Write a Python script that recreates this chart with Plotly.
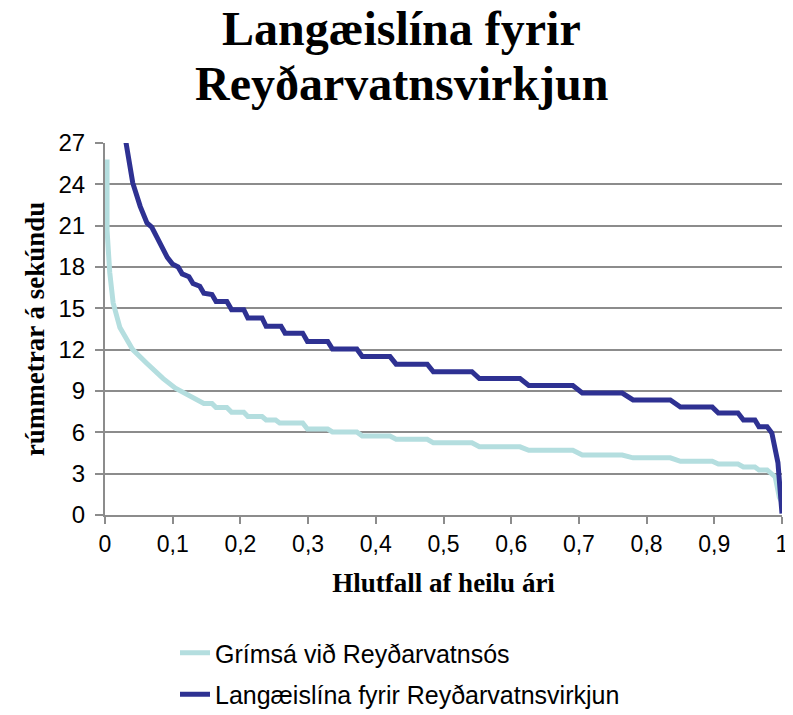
import plotly.graph_objects as go

# Dark series: Langæislína fyrir Reyðarvatnsvirkjun
dark_x = [0.026, 0.031, 0.041, 0.052, 0.062, 0.069, 0.081, 0.092, 0.100, 0.108, 0.114, 0.124,
          0.130, 0.140, 0.146, 0.158, 0.164, 0.180, 0.187, 0.205, 0.211, 0.232, 0.238, 0.260,
          0.266, 0.292, 0.299, 0.329, 0.336, 0.372, 0.380, 0.421, 0.430, 0.476, 0.485, 0.542,
          0.553, 0.613, 0.626, 0.691, 0.705, 0.764, 0.780, 0.835, 0.850, 0.897, 0.906, 0.935,
          0.943, 0.960, 0.966, 0.978, 0.985, 0.990, 0.994, 1.000]
dark_y = [28.5, 27.0, 24.1, 22.4, 21.2, 20.9, 19.7, 18.7, 18.2, 18.0, 17.5, 17.3,
          16.8, 16.6, 16.1, 16.0, 15.5, 15.5, 14.9, 14.9, 14.3, 14.3, 13.7, 13.7,
          13.2, 13.2, 12.6, 12.6, 12.05, 12.05, 11.5, 11.5, 10.95, 10.95, 10.4, 10.4,
          9.9, 9.9, 9.4, 9.4, 8.85, 8.85, 8.35, 8.35, 7.83, 7.83, 7.4, 7.4,
          6.9, 6.9, 6.4, 6.4, 5.95, 4.9, 3.8, 0.1]

# Light series: Grímsá við Reyðarvatnsós
light_x = [0.003, 0.003, 0.007, 0.012, 0.022, 0.041, 0.062, 0.086, 0.104, 0.126, 0.146, 0.158,
           0.164, 0.180, 0.187, 0.205, 0.211, 0.232, 0.238, 0.252, 0.258, 0.292, 0.299, 0.329,
           0.336, 0.372, 0.380, 0.421, 0.430, 0.476, 0.485, 0.542, 0.553, 0.613, 0.626, 0.691,
           0.705, 0.764, 0.780, 0.835, 0.850, 0.897, 0.906, 0.935, 0.943, 0.960, 0.966, 0.978,
           0.990, 0.996, 0.999]
light_y = [25.8, 20.7, 17.6, 15.4, 13.6, 12.0, 11.0, 9.9, 9.2, 8.6, 8.1, 8.1,
           7.8, 7.8, 7.45, 7.45, 7.15, 7.15, 6.9, 6.9, 6.68, 6.68, 6.24, 6.24,
           6.03, 6.03, 5.73, 5.73, 5.5, 5.5, 5.24, 5.24, 4.95, 4.95, 4.7, 4.7,
           4.35, 4.35, 4.15, 4.15, 3.9, 3.9, 3.7, 3.7, 3.48, 3.48, 3.27, 3.27,
           2.76, 1.3, 1.0]

x_tickvals = [0, 0.1, 0.2, 0.3, 0.4, 0.5, 0.6, 0.7, 0.8, 0.9, 1.0]
x_ticktext = ["0", "0,1", "0,2", "0,3", "0,4", "0,5", "0,6", "0,7", "0,8", "0,9", "1"]
y_tickvals = [0, 3, 6, 9, 12, 15, 18, 21, 24, 27]

light_name = "Grímsá við Reyðarvatnsós"
dark_name = "Langæislína fyrir Reyðarvatnsvirkjun"
title_lines = ["Langæislína fyrir", "Reyðarvatnsvirkjun"]
x_title = "Hlutfall af heilu ári"
y_title = "rúmmetrar á sekúndu"

fig = go.Figure()
fig.add_trace(go.Scatter(x=light_x, y=light_y, mode="lines", name=light_name,
                         legendgroup="a",
                         line=dict(color="#b4dedf", width=5)))
fig.add_trace(go.Scatter(x=dark_x, y=dark_y, mode="lines", name=dark_name,
                         legendgroup="b",
                         line=dict(color="#2e3192", width=5)))

serif = "Liberation Serif, Times New Roman, serif"
sans = "Liberation Sans, Arial, sans-serif"

# page has an 8px body margin; figure pixels = screen pixels - 8
# plot area in figure pixels: 97..774 horizontally, 135..507 vertically
def paper_y(px):
    return (507 - px) / 372.0

def paper_x(px):
    return (px - 97) / 677.0

for i, line in enumerate(title_lines):
    fig.add_annotation(text="<b>" + line + "</b>", xref="paper", yref="paper",
                       x=paper_x(393), y=paper_y([20, 76][i]), xanchor="center", yanchor="middle",
                       showarrow=False, font=dict(family=serif, size=48, color="black"))

fig.update_layout(
    width=785, height=707,
    margin=dict(l=97, r=11, t=135, b=200, autoexpand=False),
    paper_bgcolor="white", plot_bgcolor="white",
    xaxis=dict(range=[0, 1], tickvals=x_tickvals, ticktext=x_ticktext, tickangle=0,
               showgrid=False, zeroline=False, showline=True, linecolor="#8c8c8c", linewidth=2,
               ticks="outside", ticklen=7, tickcolor="#8c8c8c", tickwidth=2,
               tickfont=dict(family=sans, size=23, color="black"),
               title=dict(text="<b>" + x_title + "</b>", font=dict(family=serif, size=27, color="black"), standoff=18)),
    yaxis=dict(range=[0, 27], tickvals=y_tickvals,
               showgrid=True, gridcolor="#8c8c8c", gridwidth=2, zeroline=False,
               showline=True, linecolor="#8c8c8c", linewidth=2,
               ticks="outside", ticklen=8, tickcolor="#8c8c8c", tickwidth=2,
               ticklabelstandoff=5,
               tickfont=dict(family=sans, size=24, color="black"),
               title=dict(text="<b>" + y_title + "</b>", font=dict(family=serif, size=27, color="black"), standoff=6)),
    legend=dict(x=paper_x(167), y=paper_y(622), xanchor="left", yanchor="top",
                font=dict(family=sans, size=25, color="black"),
                traceorder="grouped", tracegroupgap=6, bgcolor="rgba(0,0,0,0)"),
    showlegend=True,
)

fig.write_html("out.html")
